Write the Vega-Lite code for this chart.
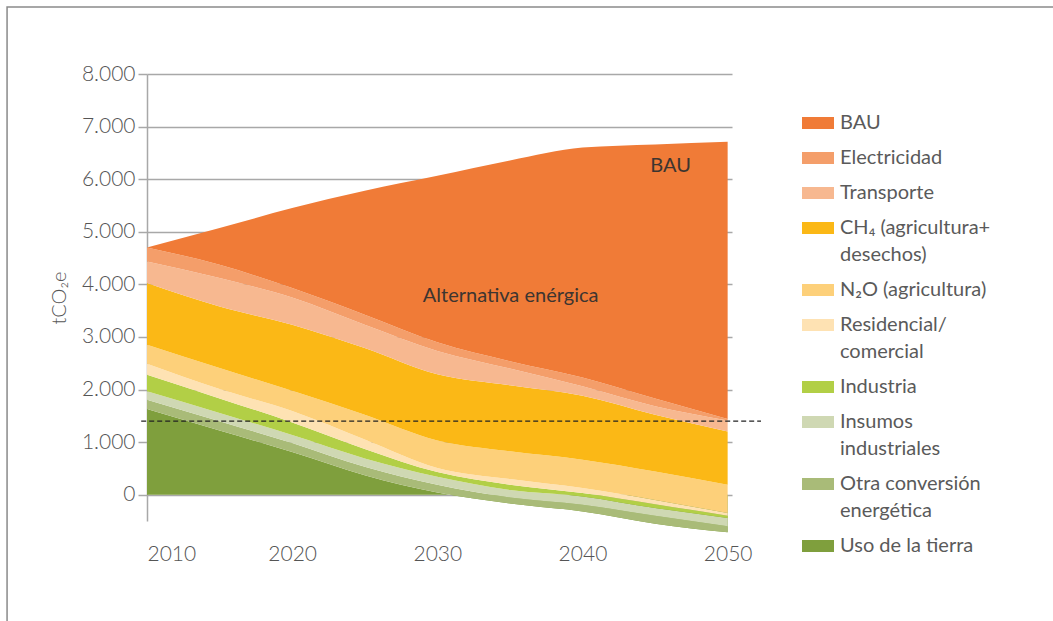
{
  "$schema": "https://vega.github.io/schema/vega-lite/v6.json",
  "width": 585,
  "height": 447,
  "autosize": {"type": "none"},
  "padding": {"left": 147, "top": 74, "right": 321, "bottom": 100},
  "background": "white",
  "config": {"view": {"stroke": null}, "font": "Lato"},
  "datasets": {
    "emissions": [
      {"year":2010,"sector":"Uso de la tierra","value":1630},
      {"year":2015,"sector":"Uso de la tierra","value":1222},
      {"year":2020,"sector":"Uso de la tierra","value":811},
      {"year":2025,"sector":"Uso de la tierra","value":370},
      {"year":2030,"sector":"Uso de la tierra","value":40},
      {"year":2035,"sector":"Uso de la tierra","value":-165},
      {"year":2040,"sector":"Uso de la tierra","value":-317},
      {"year":2045,"sector":"Uso de la tierra","value":-550},
      {"year":2050,"sector":"Uso de la tierra","value":-716},
      {"year":2010,"sector":"Otra conversión|energética","value":177},
      {"year":2015,"sector":"Otra conversión|energética","value":175},
      {"year":2020,"sector":"Otra conversión|energética","value":172},
      {"year":2025,"sector":"Otra conversión|energética","value":160},
      {"year":2030,"sector":"Otra conversión|energética","value":150},
      {"year":2035,"sector":"Otra conversión|energética","value":114},
      {"year":2040,"sector":"Otra conversión|energética","value":127},
      {"year":2045,"sector":"Otra conversión|energética","value":150},
      {"year":2050,"sector":"Otra conversión|energética","value":114},
      {"year":2010,"sector":"Insumos|industriales","value":158},
      {"year":2015,"sector":"Insumos|industriales","value":156},
      {"year":2020,"sector":"Insumos|industriales","value":152},
      {"year":2025,"sector":"Insumos|industriales","value":160},
      {"year":2030,"sector":"Insumos|industriales","value":150},
      {"year":2035,"sector":"Insumos|industriales","value":140},
      {"year":2040,"sector":"Insumos|industriales","value":158},
      {"year":2045,"sector":"Insumos|industriales","value":145},
      {"year":2050,"sector":"Insumos|industriales","value":159},
      {"year":2010,"sector":"Industria","value":317},
      {"year":2015,"sector":"Industria","value":278},
      {"year":2020,"sector":"Industria","value":240},
      {"year":2025,"sector":"Industria","value":180},
      {"year":2030,"sector":"Industria","value":90},
      {"year":2035,"sector":"Industria","value":101},
      {"year":2040,"sector":"Industria","value":64},
      {"year":2045,"sector":"Industria","value":75},
      {"year":2050,"sector":"Industria","value":44},
      {"year":2010,"sector":"Residencial/|comercial","value":209},
      {"year":2015,"sector":"Residencial/|comercial","value":178},
      {"year":2020,"sector":"Residencial/|comercial","value":216},
      {"year":2025,"sector":"Residencial/|comercial","value":180},
      {"year":2030,"sector":"Residencial/|comercial","value":80},
      {"year":2035,"sector":"Residencial/|comercial","value":108},
      {"year":2040,"sector":"Residencial/|comercial","value":95},
      {"year":2045,"sector":"Residencial/|comercial","value":80},
      {"year":2050,"sector":"Residencial/|comercial","value":50},
      {"year":2010,"sector":"N₂O (agricultura)","value":362},
      {"year":2015,"sector":"N₂O (agricultura)","value":400},
      {"year":2020,"sector":"N₂O (agricultura)","value":386},
      {"year":2025,"sector":"N₂O (agricultura)","value":470},
      {"year":2030,"sector":"N₂O (agricultura)","value":520},
      {"year":2035,"sector":"N₂O (agricultura)","value":526},
      {"year":2040,"sector":"N₂O (agricultura)","value":538},
      {"year":2045,"sector":"N₂O (agricultura)","value":540},
      {"year":2050,"sector":"N₂O (agricultura)","value":539},
      {"year":2010,"sector":"CH₄ (agricultura+|desechos)","value":1172},
      {"year":2015,"sector":"CH₄ (agricultura+|desechos)","value":1171},
      {"year":2020,"sector":"CH₄ (agricultura+|desechos)","value":1255},
      {"year":2025,"sector":"CH₄ (agricultura+|desechos)","value":1269},
      {"year":2030,"sector":"CH₄ (agricultura+|desechos)","value":1260},
      {"year":2035,"sector":"CH₄ (agricultura+|desechos)","value":1256},
      {"year":2040,"sector":"CH₄ (agricultura+|desechos)","value":1215},
      {"year":2045,"sector":"CH₄ (agricultura+|desechos)","value":1080},
      {"year":2050,"sector":"CH₄ (agricultura+|desechos)","value":1014},
      {"year":2010,"sector":"Transporte","value":411},
      {"year":2015,"sector":"Transporte","value":539},
      {"year":2020,"sector":"Transporte","value":519},
      {"year":2025,"sector":"Transporte","value":443},
      {"year":2030,"sector":"Transporte","value":445},
      {"year":2035,"sector":"Transporte","value":320},
      {"year":2040,"sector":"Transporte","value":180},
      {"year":2045,"sector":"Transporte","value":160},
      {"year":2050,"sector":"Transporte","value":209},
      {"year":2010,"sector":"Electricidad","value":264},
      {"year":2015,"sector":"Electricidad","value":253},
      {"year":2020,"sector":"Electricidad","value":178},
      {"year":2025,"sector":"Electricidad","value":190},
      {"year":2030,"sector":"Electricidad","value":165},
      {"year":2035,"sector":"Electricidad","value":140},
      {"year":2040,"sector":"Electricidad","value":170},
      {"year":2045,"sector":"Electricidad","value":150},
      {"year":2050,"sector":"Electricidad","value":25},
      {"year":2010,"sector":"BAU","value":0},
      {"year":2015,"sector":"BAU","value":698},
      {"year":2020,"sector":"BAU","value":1521},
      {"year":2025,"sector":"BAU","value":2358},
      {"year":2030,"sector":"BAU","value":3165},
      {"year":2035,"sector":"BAU","value":3815},
      {"year":2040,"sector":"BAU","value":4370},
      {"year":2045,"sector":"BAU","value":4830},
      {"year":2050,"sector":"BAU","value":5272}
    ],
    "annotations": [
      {"year": 2035.05, "value": 3780, "text": "Alternativa enérgica"},
      {"year": 2046.07, "value": 6250, "text": "BAU"}
    ],
    "goal": [
      {"start": 2009.6, "end": 2052.3, "value": 1400}
    ],
    "frame": [
      {"x1": 2000.36, "x2": 2090, "y1": 9274, "y2": -12000}
    ]
  },
  "layer": [
    {
      "data": {"name": "frame"},
      "mark": {"type": "rect", "fill": null, "stroke": "#8a8a8a", "strokeWidth": 1.5, "clip": false},
      "encoding": {
        "x": {"field": "x1", "type": "quantitative", "scale": {"domain": [2010, 2050.3], "nice": false, "zero": false}},
        "x2": {"field": "x2"},
        "y": {"field": "y1", "type": "quantitative", "scale": {"domain": [-500, 8000], "nice": false, "zero": false}},
        "y2": {"field": "y2"}
      }
    },
    {
      "data": {"name": "emissions"},
      "transform": [
        {"calculate": "indexof(['Uso de la tierra','Otra conversión|energética','Insumos|industriales','Industria','Residencial/|comercial','N₂O (agricultura)','CH₄ (agricultura+|desechos)','Transporte','Electricidad','BAU'], datum.sector)", "as": "rank"},
        {"window": [{"op": "sum", "field": "value", "as": "top"}], "groupby": ["year"], "sort": [{"field": "rank", "order": "ascending"}], "frame": [null, 0]},
        {"calculate": "datum.top - datum.value", "as": "bottom"}
      ],
      "encoding": {
        "x": {
          "field": "year", "type": "quantitative",
          "scale": {"domain": [2010, 2050.3], "nice": false, "zero": false},
          "axis": {"values": [2010, 2020, 2030, 2040, 2050], "format": "d", "domain": false, "ticks": false, "grid": false, "labelFontSize": 21, "labelFontWeight": 300, "labelColor": "#555555", "labelFont": "Lato", "labelPadding": 22, "title": null}
        },
        "y": {
          "field": "top", "type": "quantitative",
          "scale": {"domain": [-500, 8000], "nice": false, "zero": false},
          "axis": {"values": [0, 1000, 2000, 3000, 4000, 5000, 6000, 7000, 8000], "title": "tCO₂e", "titleFontSize": 20, "titleFont": "Lato", "titleFontWeight": 300, "titleColor": "#555555", "titlePadding": 12, "labelFontSize": 21, "labelFontWeight": 300, "labelFont": "Lato", "labelColor": "#555555", "labelExpr": "replace(format(datum.value, ','), ',', '.')", "labelPadding": 3, "tickSize": 9, "tickColor": "#a8a8a8", "tickWidth": 1.5, "domainColor": "#a8a8a8", "domainWidth": 1.5, "grid": true, "gridColor": "#a8a8a8", "gridWidth": 1.5}
        },
        "y2": {"field": "bottom"},
        "color": {
          "field": "sector", "type": "nominal",
          "scale": {
            "domain": ["BAU", "Electricidad", "Transporte", "CH₄ (agricultura+|desechos)", "N₂O (agricultura)", "Residencial/|comercial", "Industria", "Insumos|industriales", "Otra conversión|energética", "Uso de la tierra"],
            "range": ["#f07b37", "#f49e6a", "#f7b890", "#fbb816", "#fdd07a", "#fee2b3", "#b2cf46", "#cfd8b3", "#a9bb78", "#7f9f3d"]
          },
          "legend": {
            "orient": "none", "legendX": 655, "legendY": 33, "title": null, "padding": 0,
            "symbolType": "M-1,-0.375H1V0.375H-1Z", "symbolSize": 1024, "symbolStrokeWidth": 0, "symbolOpacity": 1,
            "labelFontSize": 20, "labelFontWeight": 400, "labelFont": "Lato", "labelColor": "#5a5a5a", "labelLimit": 400, "labelOffset": 6, "rowPadding": 9,
            "labelExpr": "split(datum.label, '|')",
            "encode": {"labels": {"update": {"lineHeight": {"value": 27}}}}
          }
        }
      },
      "layer": [
        {
          "transform": [{"filter": "datum.sector == 'Uso de la tierra'"}],
          "mark": {"type": "area", "interpolate": "monotone", "opacity": 1, "strokeWidth": 0}
        },
        {
          "transform": [{"filter": "datum.sector != 'Uso de la tierra'"}],
          "mark": {"type": "area", "interpolate": "monotone", "opacity": 1, "strokeWidth": 0}
        }
      ]
    },
    {
      "data": {"name": "goal"},
      "mark": {"type": "rule", "color": "#222222", "strokeWidth": 1.3, "strokeDash": [5, 3], "clip": false},
      "encoding": {
        "x": {"field": "start", "type": "quantitative", "scale": {"domain": [2010, 2050.3], "nice": false, "zero": false}},
        "x2": {"field": "end"},
        "y": {"field": "value", "type": "quantitative", "scale": {"domain": [-500, 8000], "nice": false, "zero": false}}
      }
    },
    {
      "data": {"name": "annotations"},
      "mark": {"type": "text", "fontSize": 20, "font": "Lato", "fontWeight": 400, "color": "#3d3530", "align": "center", "baseline": "middle"},
      "encoding": {
        "x": {"field": "year", "type": "quantitative", "scale": {"domain": [2010, 2050.3], "nice": false, "zero": false}},
        "y": {"field": "value", "type": "quantitative", "scale": {"domain": [-500, 8000], "nice": false, "zero": false}},
        "text": {"field": "text"}
      }
    }
  ]
}
